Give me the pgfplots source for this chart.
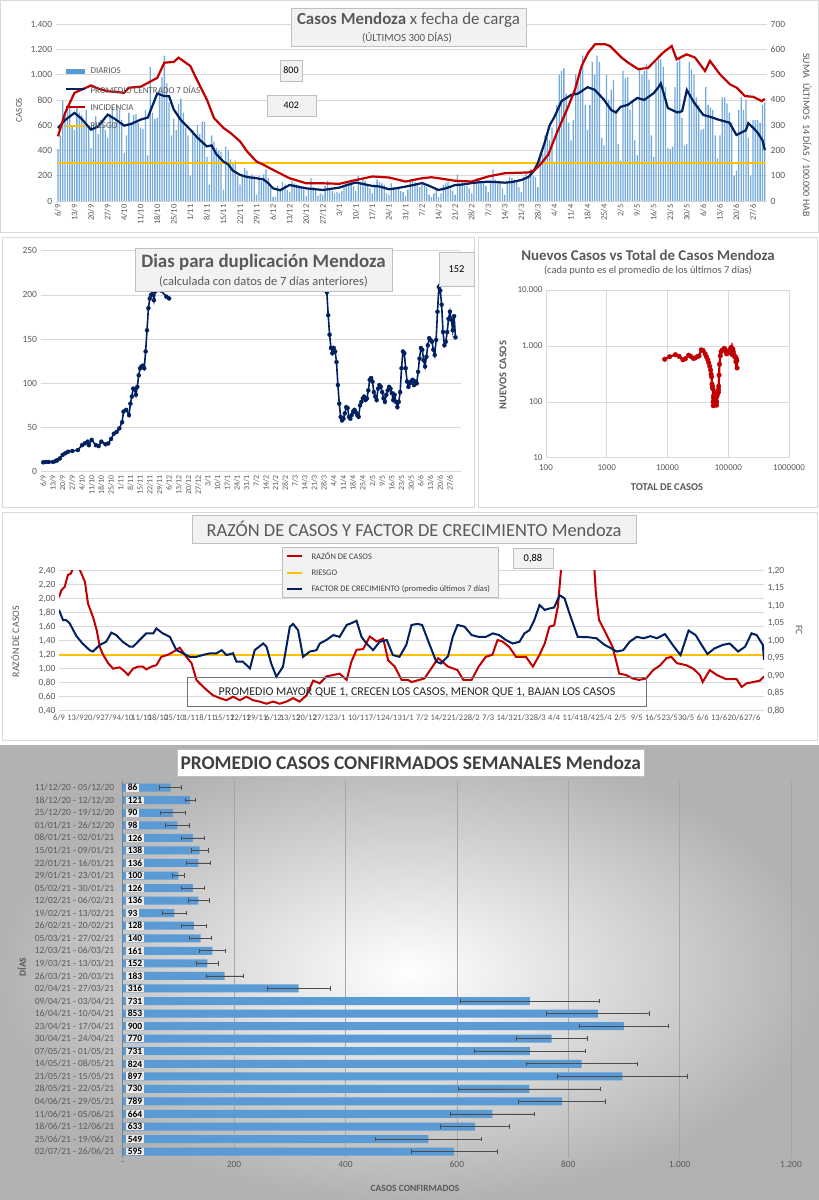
\documentclass[border=0pt]{standalone}
\usepackage{fontspec}
\setmainfont{Carlito}
\usepackage{pgfplots}
\pgfplotsset{compat=1.18}
\usepackage{pgfplotstable}

\definecolor{navy}{RGB}{0,32,96}
\definecolor{rojo}{RGB}{192,0,0}
\definecolor{amarillo}{RGB}{255,192,0}
\definecolor{barra}{RGB}{91,155,213}
\definecolor{txt}{RGB}{89,89,89}
\definecolor{gridc}{RGB}{217,217,217}
\definecolor{boxfill}{RGB}{242,242,242}
\definecolor{boxline}{RGB}{191,191,191}

\newcommand{\fs}[1]{\fontsize{#1}{#1}\selectfont}

\pgfplotsset{
  base/.style={scale only axis, axis line style={draw=none}, tick style={draw=none},
    tick label style={font=\fs{9.5}, text=txt},
    /pgf/number format/assume math mode=true,
    grid style={gridc, line width=0.6bp}},
  fechas/.style={xtick={0,7,...,294},
    xticklabels={6/9,13/9,20/9,27/9,4/10,11/10,18/10,25/10,1/11,8/11,15/11,22/11,29/11,
      6/12,13/12,20/12,27/12,3/1,10/1,17/1,24/1,31/1,7/2,14/2,21/2,28/2,7/3,14/3,21/3,28/3,
      4/4,11/4,18/4,25/4,2/5,9/5,16/5,23/5,30/5,6/6,13/6,20/6,27/6}},
}

% promedio semanal: fila, valor, desvio
\pgfplotstableread{
idx val err
0 86 20
1 121 9
2 90 22
3 98 21
4 126 20
5 138 15
6 136 21
7 100 11
8 126 21
9 136 19
10 93 21
11 128 22
12 140 20
13 161 24
14 152 20
15 183 33
16 316 57
17 731 125
18 853 93
19 900 80
20 770 64
21 731 100
22 824 100
23 897 116
24 730 127
25 789 78
26 664 75
27 633 62
28 549 95
29 595 77
}\semanal

\begin{document}
\begin{tikzpicture}
\useasboundingbox (0,0) rectangle (819bp,-1200bp);
\fill[white] (0,0) rectangle (819bp,-1200bp);
\draw[black!15] (0.5bp,-0.5bp) rectangle (818.5bp,-232bp);
\draw[black!15] (2bp,-237bp) rectangle (474bp,-507bp);
\draw[black!15] (478bp,-237bp) rectangle (817bp,-507bp);
\draw[black!15] (2bp,-512bp) rectangle (817bp,-740bp);
\shade[inner color=white, outer color=black!30] (0,-745bp) rectangle (819bp,-1200bp);

%% ---------------- panel 1: casos diarios ----------------
\begin{axis}[base, at={(55.6bp,-201bp)}, anchor=south west, width=711.6bp, height=177bp,
  xmin=-1, xmax=300, ymin=0, ymax=1400, ytick={0,200,...,1400}, ymajorgrids,
  yticklabel style={/pgf/number format/1000 sep={.}},
  fechas, xticklabel style={rotate=90, anchor=east, font=\fs{8.5}}]
\addplot[ybar, bar width=1.3bp, fill=barra!85, draw=none] coordinates {
(0,410)(1,520)(2,790)(3,680)(4,720)(5,760)(6,600)
(7,560)(8,750)(9,700)(10,680)(11,610)(12,720)(13,580)
(14,420)(15,610)(16,670)(17,530)(18,640)(19,600)(20,560)
(21,500)(22,690)(23,740)(24,620)(25,760)(26,720)(27,640)
(28,380)(29,520)(30,700)(31,610)(32,680)(33,690)(34,620)
(35,580)(36,570)(37,720)(38,360)(39,1060)(40,700)(41,650)
(42,660)(43,880)(44,980)(45,1150)(46,930)(47,780)(48,520)
(49,650)(50,560)(51,770)(52,810)(53,700)(54,580)(55,520)
(56,200)(57,560)(58,510)(59,600)(60,530)(61,630)(62,625)
(63,350)(64,130)(65,520)(66,470)(67,420)(68,400)(69,390)
(70,90)(71,430)(72,400)(73,330)(74,300)(75,320)(76,200)
(77,130)(78,200)(79,260)(80,240)(81,190)(82,210)(83,200)
(84,50)(85,200)(86,160)(87,210)(88,250)(89,180)(90,130)
(91,30)(92,30)(93,120)(94,100)(95,150)(96,130)(97,90)
(98,70)(99,160)(100,140)(101,130)(102,120)(103,110)(104,90)
(105,40)(106,100)(107,180)(108,110)(109,100)(110,40)(111,60)
(112,50)(113,120)(114,160)(115,100)(116,80)(117,60)(118,70)
(119,60)(120,80)(121,130)(122,150)(123,140)(124,170)(125,120)
(126,80)(127,200)(128,150)(129,180)(130,160)(131,120)(132,100)
(133,60)(134,130)(135,170)(136,150)(137,140)(138,130)(139,60)
(140,50)(141,140)(142,110)(143,90)(144,110)(145,80)(146,70)
(147,40)(148,90)(149,160)(150,170)(151,150)(152,140)(153,110)
(154,150)(155,140)(156,110)(157,50)(158,30)(159,60)(160,90)
(161,30)(162,60)(163,130)(164,140)(165,150)(166,100)(167,80)
(168,50)(169,210)(170,140)(171,160)(172,120)(173,120)(174,100)
(175,60)(176,150)(177,180)(178,170)(179,160)(180,150)(181,120)
(182,70)(183,160)(184,250)(185,170)(186,150)(187,160)(188,100)
(189,50)(190,150)(191,190)(192,180)(193,170)(194,160)(195,110)
(196,70)(197,190)(198,220)(199,200)(200,250)(201,200)(202,190)
(203,110)(204,330)(205,370)(206,520)(207,500)(208,480)(209,580)
(210,300)(211,760)(212,1000)(213,1030)(214,1050)(215,850)(216,620)
(217,480)(218,640)(219,1000)(220,960)(221,1050)(222,1150)(223,760)
(224,560)(225,760)(226,1100)(227,1000)(228,1150)(229,1100)(230,500)
(231,440)(232,1000)(233,800)(234,880)(235,960)(236,720)(237,450)
(238,320)(239,1030)(240,970)(241,980)(242,720)(243,800)(244,480)
(245,360)(246,1040)(247,1000)(248,1030)(249,1080)(250,960)(251,520)
(252,350)(253,1100)(254,1120)(255,1120)(256,1060)(257,900)(258,420)
(259,410)(260,430)(261,900)(262,1100)(263,1130)(264,660)(265,440)
(266,450)(267,1100)(268,1040)(269,1000)(270,820)(271,760)(272,560)
(273,570)(274,900)(275,760)(276,740)(277,720)(278,520)(279,340)
(280,520)(281,820)(282,820)(283,770)(284,700)(285,620)(286,200)
(287,240)(288,720)(289,820)(290,720)(291,800)(292,500)(293,200)
(294,640)(295,640)(296,640)(297,620)(298,760)(299,780)};
\addplot[amarillo, line width=2.2bp] coordinates {(0,300)(299,300)};
\addplot[navy, line width=2.2bp] coordinates {
(0,577)(3,640)(7,697)(10,650)(14,564)(17,590)(21,683)(24,650)(28,596)(31,610)
(35,644)(38,660)(42,850)(45,830)(47,829)(49,723)(52,640)(56,564)(59,500)(63,432)
(65,440)(67,370)(70,312)(72,290)(74,240)(77,207)(80,190)(84,180)(87,170)(89,140)
(91,100)(94,85)(98,127)(101,115)(105,100)(108,95)(112,87)(115,95)(119,106)(122,125)
(126,146)(129,135)(133,119)(136,115)(140,93)(143,100)(147,114)(150,125)(154,142)(157,120)
(161,87)(164,100)(168,126)(171,130)(175,142)(178,148)(182,153)(185,150)(189,145)(192,150)
(196,166)(199,190)(201,230)(203,300)(206,470)(208,600)(210,665)(213,790)(217,838)(220,850)
(224,900)(227,880)(231,800)(234,720)(236,700)(238,745)(241,760)(245,815)(248,800)(252,853)
(254,900)(255,930)(257,800)(258,735)(262,700)(264,710)(266,878)(269,780)(273,680)(276,665)
(280,640)(284,620)(287,522)(291,560)(292,615)(294,580)(296,540)(298,480)(299,403)};
\end{axis}
\begin{axis}[base, at={(55.6bp,-201bp)}, anchor=south west, width=711.6bp, height=177bp,
  xmin=-1, xmax=300, ymin=0, ymax=700, ytick={0,100,...,700}, yticklabel pos=right,
  xtick=\empty]
\addplot[rojo, line width=2.2bp] coordinates {
(0,256)(3,348)(7,428)(14,457)(17,445)(21,434)(28,428)(30,448)(35,452)(42,487)
(45,547)(49,550)(51,567)(56,534)(58,494)(63,401)(66,328)(70,289)(73,269)(77,236)
(80,196)(84,156)(87,143)(91,123)(98,90)(105,70)(112,70)(119,68)(126,83)(133,97)
(140,93)(147,77)(154,90)(158,94)(161,90)(168,80)(175,77)(182,97)(189,110)(199,113)
(201.8,123)(203.9,143)(207.4,183)(211,269)(215.9,375)(218.7,441)(221.5,534)(224.3,587)
(227.2,620)(231.4,620)(233.5,613)(238.4,567)(241.2,547)(245.5,521)(249.7,527)(252.5,554)
(256,587)(259.6,613)(261.7,560)(265.9,580)(269.5,567)(273.7,514)(275.8,554)(280,501)
(284.3,461)(287.1,448)(290.6,415)(294.1,412)(297.7,395)(299,404)};
\end{axis}
\draw[draw=boxline, fill=boxfill] (291bp,-7.7bp) rectangle (526bp,-46bp);
\node[text=txt, font=\fs{17}] at (408.5bp,-20bp) {\textbf{Casos Mendoza} x fecha de carga};
\node[text=txt, font=\fs{11}] at (407bp,-37.5bp) {(ÚLTIMOS 300 DÍAS)};
\fill[barra] (66bp,-68.5bp) rectangle (85bp,-73.5bp);
\draw[navy, line width=2.2bp] (66bp,-89.3bp) -- (85bp,-89.3bp);
\draw[rojo, line width=2.2bp] (66bp,-107.3bp) -- (85bp,-107.3bp);
\draw[amarillo, line width=2.2bp] (66bp,-126bp) -- (85bp,-126bp);
\begin{scope}[every node/.style={anchor=west, text=txt, font=\fs{9}}]
\node at (87bp,-71bp) {DIARIOS};
\node at (87bp,-89.3bp) {PROMEDIO CENTRADO 7 DÍAS};
\node at (87bp,-107.3bp) {INCIDENCIA};
\node at (87bp,-126bp) {RIESGO};
\end{scope}
\node[draw=boxline, fill=boxfill, minimum width=22bp, minimum height=21bp, inner sep=0, font=\fs{10}] at (291bp,-70.2bp) {800};
\node[draw=boxline, fill=boxfill, minimum width=49bp, minimum height=21bp, inner sep=0, font=\fs{10}] at (291.3bp,-105.3bp) {402};
\node[rotate=90, text=txt, font=\fs{9}] at (19bp,-110bp) {CASOS};
\node[rotate=-90, text=txt, font=\fs{10}] at (807bp,-135bp) {SUMA\ \ ÚLTIMOS\ \ 14 DÍAS / 100.000 HAB};

%% ---------------- panel 2: dias para duplicacion ----------------
\begin{axis}[base, at={(40.5bp,-471.7bp)}, anchor=south west, width=420.5bp, height=221bp,
  xmin=-2, xmax=302, ymin=0, ymax=250, ytick={0,50,...,250}, ymajorgrids,
  fechas, xticklabel style={rotate=90, anchor=east, font=\fs{8}}]
\addplot[navy, line width=1.6bp, mark=*, mark size=2bp, mark options={line width=0.4bp}] coordinates {
(0,10.6)(2,11)(4,11)(7,11)(9,12)(10,13)(12,15)(14,19)(16,21)(18,22.6)(21,23.4)(25,24.5)
(28,30)(30,32)(32,34)(33,30)(35,36)(38,30)(40,29)(42,34)(45,31)(47,32)(49,37)(51,43)
(53,45)(55,49)(57,56)(58,68)(60,70)(62,64)(63,77)(64,85)(65,94)(66,93)(67,87)(68,96)
(69,109)(70,117)(71,119)(72,120)(73,117)(74,136)(75,160)(76,185)(77,196)(78,200)(79,204)
(80,194)(81,204)(82,207)(84,211)(85,205)(89,198)(91,196)};
\addplot[navy, line width=1.6bp, mark=*, mark size=2bp, mark options={line width=0.4bp}] coordinates {
(205,203)(206,177)(207,155)(208,140)(209,134)(210,140)(211,136)(212,124)(213,98)(214,77)
(215,62)(216,58)(217,60)(218,66)(219,73)(220,72)(221,62)(222,60)(223,64)(224,68)(225,70)
(226,67)(227,64)(228,62)(229,75)(230,79)(231,83)(232,85)(233,81)(234,83)(235,92)(236,104)
(237,106)(238,102)(239,90)(240,85)(241,81)(242,94)(243,98)(244,96)(245,90)(246,83)(247,79)
(248,87)(249,92)(250,96)(251,94)(252,89)(253,81)(254,87)(255,79)(256,73)(257,79)(258,90)
(259,117)(260,136)(261,134)(262,117)(263,102)(264,96)(265,100)(266,102)(267,104)(268,98)
(269,102)(270,100)(271,113)(272,128)(273,140)(274,138)(275,126)(276,119)(277,130)(278,143)
(279,151)(280,149)(281,147)(282,138)(283,132)(284,149)(285,181)(286,209)(287,205)(288,189)
(289,158)(290,143)(291,147)(292,158)(293,173)(294,181)(295,172)(296,160)(297,176)(298,152)};
\end{axis}
\draw[draw=boxline, fill=boxfill] (135bp,-248bp) rectangle (392bp,-290.7bp);
\node[text=txt, font=\bfseries\fs{19}] at (263.5bp,-262bp) {Dias para duplicación Mendoza};
\node[text=txt, font=\fs{12.5}] at (263.5bp,-282.3bp) {(calculada con datos de 7 días anteriores)};
\node[draw=boxline, fill=boxfill, minimum width=35bp, minimum height=34.7bp, inner sep=0, font=\fs{10.5}] at (456.5bp,-269.3bp) {152};

%% ---------------- panel 3: nuevos vs total ----------------
\begin{axis}[base, at={(546bp,-457.7bp)}, anchor=south west, width=243bp, height=167.7bp,
  xmode=log, ymode=log, xmin=100, xmax=1000000, ymin=10, ymax=10000,
  xtick={100,1000,10000,100000,1000000}, xticklabels={100,1000,10000,100000,1000000},
  ytick={10,100,1000,10000}, yticklabels={10,100,1.000,10.000},
  xmajorgrids, ymajorgrids, tick label style={font=\fs{9}},
  xticklabel style={yshift=-3bp}]
\addplot[rojo, line width=2.2bp, mark=*, mark size=2.3bp, mark options={line width=0.4bp}] coordinates {
(9000,577)(10826,640)(13500,697)(15520,650)(17948,564)(19679,590)(22225,683)(24225,650)
(26717,596)(28526,610)(31034,644)(32990,660)(36010,850)(38530,830)(41636,723)(43681,640)
(46089,564)(47685,500)(49549,432)(51153,370)(52176,312)(53064,280)(54038,207)(54634,190)
(55374,180)(55899,170)(56439,100)(56717,85)(57141,127)(57504,115)(57934,100)(58227,95)
(58591,87)(58864,95)(59266,106)(59613,125)(60155,146)(60577,135)(61085,119)(61436,115)
(61852,93)(62142,100)(62570,114)(62929,125)(63463,142)(63856,120)(64270,87)(64551,100)
(65003,126)(65387,130)(65931,142)(66366,148)(66968,153)(67423,150)(68013,145)(68456,150)
(69088,166)(69622,190)(70602,300)(71757,470)(74027,665)(76210,790)(79466,838)(81998,850)
(85498,900)(88168,880)(91528,800)(93808,720)(96738,745)(98996,760)(102146,815)(104569,800)
(107875,853)(110550,930)(113048,735)(115918,700)(119074,878)(121561,780)(124481,680)
(126499,665)(129109,640)(131629,620)(133342,522)(135506,560)(137216,580)(138336,540)(139751,403)};
\end{axis}
\node[text=txt, font=\bfseries\fs{15}] at (648bp,-255.7bp) {Nuevos Casos vs Total de Casos Mendoza};
\node[text=txt, font=\fs{10.5}] at (648bp,-270.5bp) {(cada punto es el promedio de los últimos 7 días)};
\node[rotate=90, text=txt, font=\bfseries\fs{10.5}] at (503bp,-375bp) {NUEVOS CASOS};
\node[text=txt, font=\bfseries\fs{10.5}] at (667bp,-487.3bp) {TOTAL DE CASOS};

%% ---------------- panel 4: razon y factor ----------------
\begin{axis}[base, at={(59bp,-710.7bp)}, anchor=south west, width=705bp, height=140bp,
  xmin=0, xmax=299, ymin=0.4, ymax=2.4, ytick={0.4,0.6,0.8,1,1.2,1.4,1.6,1.8,2,2.2,2.4},
  ymajorgrids, yticklabel style={/pgf/number format/.cd, fixed, fixed zerofill, precision=2, use comma},
  fechas, xticklabel style={font=\fs{8.5}, inner xsep=0pt}]
\addplot[amarillo, line width=2.2bp] coordinates {(0,1.2)(299,1.2)};
\addplot[rojo, line width=2bp] coordinates {
(0,2.02)(1,2.12)(2.4,2.17)(3.8,2.34)(5,2.36)(6.6,2.48)(8,2.46)(9,2.40)(11,2.24)(12.3,1.93)
(14.4,1.74)(16,1.55)(17.3,1.31)(18.7,1.20)(20.8,1.08)(23,1.00)(25.7,1.02)(27.9,0.96)(29.3,0.91)
(31.4,1.00)(33.5,1.03)(35.6,1.03)(37,0.99)(39.2,1.03)(41.3,1.05)(43.4,1.17)(46.3,1.20)(48.4,1.24)
(51.2,1.30)(54,1.17)(56.2,1.08)(58.3,0.84)(59.7,0.79)(62.5,0.70)(65.3,0.62)(68.2,0.58)(71,0.55)
(73.8,0.60)(76.7,0.55)(79.5,0.60)(82.3,0.55)(85.1,0.53)(88,0.50)(90.8,0.53)(93.6,0.50)(96.5,0.53)
(99.3,0.58)(102,0.53)(105,0.62)(107.8,0.83)(110.6,0.79)(113.4,0.89)(116.3,0.91)(119,0.93)(122,0.84)
(124,1.10)(126.2,1.27)(129,1.28)(131.8,1.46)(134.7,1.39)(137.5,1.43)(139.6,1.12)(142.4,1.03)
(145.3,0.84)(148,0.84)(149.5,0.81)(155,0.86)(159.4,1.08)(160.8,1.15)(165,1.03)(169,0.98)
(171.5,0.84)(175,0.84)(178,1.03)(181,1.17)(183.8,1.20)(186,1.41)(188,1.39)(191,1.31)(193.8,1.17)
(198,1.17)(201,1.03)(203.8,1.20)(206,1.36)(208,1.60)(210,1.62)(211.6,1.89)(213,2.45)(216,3.0)
(222,3.5)(226,3.0)(227.7,2.08)(229,1.70)(232,1.50)(234.8,1.31)(237.6,0.93)(240.5,0.91)(243.3,0.86)
(246,0.84)(249,0.86)(252,0.98)(255,1.05)(257.6,1.15)(259.7,1.17)(262,1.08)(266,1.05)(269,1.00)
(271.8,0.91)(273,0.81)(276,0.98)(279,0.91)(283,0.85)(287.4,0.85)(289.5,0.74)(291.6,0.79)
(294.5,0.81)(297.3,0.83)(299,0.89)};
\end{axis}
\begin{axis}[base, at={(59bp,-710.7bp)}, anchor=south west, width=705bp, height=140bp,
  xmin=0, xmax=299, ymin=0.8, ymax=1.2, ytick={0.8,0.85,0.9,0.95,1,1.05,1.1,1.15,1.2},
  yticklabel pos=right, xtick=\empty,
  yticklabel style={/pgf/number format/.cd, fixed, fixed zerofill, precision=2, use comma}]
\addplot[navy, line width=2bp] coordinates {
(0,1.088)(1.7,1.059)(3,1.059)(4.5,1.05)(7.4,1.013)(10,0.992)(13,0.973)(14.4,0.969)(17.3,0.988)
(20,0.997)(22.2,1.023)(24.3,1.016)(27,0.997)(30,0.983)(31.4,0.983)(34.2,1.002)(37,1.021)(40,1.021)
(41.3,1.035)(44,1.021)(47,1.011)(49.8,0.973)(52.6,0.964)(55.4,0.954)(58.3,0.954)(61,0.959)(64,0.964)
(66.8,0.964)(69,0.973)(71,0.959)(73.8,0.964)(75.3,0.94)(78,0.94)(81,0.921)(83,0.973)(86.6,0.992)
(88,0.983)(90,0.935)(92.2,0.897)(95,0.926)(97.9,1.04)(99.3,1.048)(101.4,1.03)(103.5,0.954)
(106.4,0.969)(109.2,0.973)(110.6,0.992)(113.4,1.002)(116.3,1.016)(119,1.011)(122,1.045)(124,1.05)
(126.2,1.057)(128.3,1.011)(130.4,0.992)(133.2,0.973)(136,0.997)(139,1.002)(141.6,0.959)(144.4,0.954)
(147.3,0.988)(149.5,1.045)(152,1.048)(154,1.045)(157,0.992)(160,0.94)(162,0.935)(165,0.956)
(167,1.011)(169,1.045)(172,1.04)(175,1.016)(178,1.011)(181,1.011)(184,1.021)(186.7,1.016)
(189.5,1.002)(192.4,0.992)(195.3,0.997)(197.4,1.021)(199.5,1.03)(201.6,1.059)(203.8,1.102)
(206,1.088)(208,1.092)(210,1.095)(212.3,1.13)(214.4,1.121)(216.5,1.078)(220,1.011)(224.4,1.01)
(227.9,1.007)(231.4,0.988)(234.3,0.978)(236.5,0.969)(239.3,0.973)(242,0.997)(245,1.011)(248,1.007)
(250.8,1.013)(253.6,1.007)(257,1.019)(260.8,0.983)(263.6,0.959)(267,1.029)(270,1.016)(273,0.983)
(275,0.962)(278,0.978)(281.5,0.988)(284.5,0.992)(288,0.969)(291,0.983)(293.7,1.021)(295.9,1.016)
(298.5,0.988)(299,0.945)};
\end{axis}
\draw[draw=boxline, fill=boxfill] (192bp,-515bp) rectangle (636.5bp,-542.7bp);
\node[text=txt, font=\fs{18.5}] at (414bp,-529bp) {RAZÓN DE CASOS Y FACTOR DE CRECIMIENTO Mendoza};
\draw[draw=boxline, fill=boxfill] (281.7bp,-547.3bp) rectangle (497.7bp,-597.3bp);
\draw[rojo, line width=2bp] (287bp,-555.7bp) -- (302bp,-555.7bp);
\draw[amarillo, line width=2bp] (287bp,-573bp) -- (302bp,-573bp);
\draw[navy, line width=2bp] (287bp,-588.7bp) -- (302bp,-588.7bp);
\begin{scope}[every node/.style={anchor=west, text=black!75, font=\fs{8.5}}]
\node at (308bp,-555.7bp) {RAZÓN DE CASOS};
\node at (308bp,-573bp) {RIESGO};
\node at (308bp,-588.7bp) {FACTOR DE CRECIMIENTO (promedio últimos 7 días)};
\end{scope}
\node[draw=boxline, fill=boxfill, minimum width=40bp, minimum height=20.5bp, inner sep=0, font=\fs{10.5}] at (533bp,-558.3bp) {0,88};
\draw[black!55] (187.5bp,-677.3bp) rectangle (646bp,-706bp);
\node[text=black!85, font=\fs{12}] at (417bp,-692bp) {PROMEDIO MAYOR QUE 1, CRECEN LOS CASOS, MENOR QUE 1, BAJAN LOS CASOS};
\node[rotate=90, text=txt, font=\fs{10}] at (15bp,-641.7bp) {RAZÓN DE CASOS};
\node[rotate=-90, text=txt, font=\fs{10}] at (799bp,-630bp) {FC};

%% ---------------- panel 5: promedio semanal ----------------
\begin{axis}[base, at={(122.7bp,-1157.9bp)}, anchor=south west, width=668.3bp, height=376.5bp,
  xmin=0, xmax=1200, ymin=-0.5, ymax=29.5, y dir=reverse,
  xtick={0,200,...,1200}, xticklabels={-,200,400,600,800,1.000,1.200},
  xmajorgrids, grid style={black!35, line width=0.7bp},
  ytick={0,...,29}, yticklabel style={xshift=-5bp},
  yticklabels={11/12/20 - 05/12/20,18/12/20 - 12/12/20,25/12/20 - 19/12/20,01/01/21 - 26/12/20,
    08/01/21 - 02/01/21,15/01/21 - 09/01/21,22/01/21 - 16/01/21,29/01/21 - 23/01/21,
    05/02/21 - 30/01/21,12/02/21 - 06/02/21,19/02/21 - 13/02/21,26/02/21 - 20/02/21,
    05/03/21 - 27/02/21,12/03/21 - 06/03/21,19/03/21 - 13/03/21,26/03/21 - 20/03/21,
    02/04/21 - 27/03/21,09/04/21 - 03/04/21,16/04/21 - 10/04/21,23/04/21 - 17/04/21,
    30/04/21 - 24/04/21,07/05/21 - 01/05/21,14/05/21 - 08/05/21,21/05/21 - 15/05/21,
    28/05/21 - 22/05/21,04/06/21 - 29/05/21,11/06/21 - 05/06/21,18/06/21 - 12/06/21,
    25/06/21 - 19/06/21,02/07/21 - 26/06/21}]
\addplot[xbar, bar width=8bp, fill=barra, draw=none,
  error bars/.cd, x dir=both, x explicit,
  error bar style={black!70, line width=0.7bp},
  error mark options={rotate=90, mark size=2.2bp, black!70, line width=0.7bp}]
  table[x=val, y=idx, x error=err] \semanal;
\addplot[only marks, mark size=0pt, point meta=explicit,
  nodes near coords={\pgfmathprintnumber[fixed, precision=0]{\pgfplotspointmeta}},
  nodes near coords align={center},
  nodes near coords style={anchor=west, font=\bfseries\fs{9.5}, text=black, fill=black!8,
    inner xsep=2bp, inner ysep=0.6bp, xshift=3bp}]
  table[x expr=0, y=idx, meta=val] \semanal;
\draw[black!75, line width=1.3bp] (axis cs:0,-0.5) -- (axis cs:0,29.5);
\end{axis}
\draw[black!25, fill=white] (177.3bp,-749.3bp) rectangle (644bp,-776bp);
\node[text=black!75, font=\bfseries\fs{19.5}] at (410.7bp,-762.7bp) {PROMEDIO CASOS CONFIRMADOS SEMANALES Mendoza};
\node[rotate=90, text=txt, font=\bfseries\fs{9.5}] at (22bp,-967bp) {DÍAS};
\node[text=txt, font=\bfseries\fs{9.5}] at (415bp,-1188bp) {CASOS CONFIRMADOS};
\end{tikzpicture}
\end{document}
